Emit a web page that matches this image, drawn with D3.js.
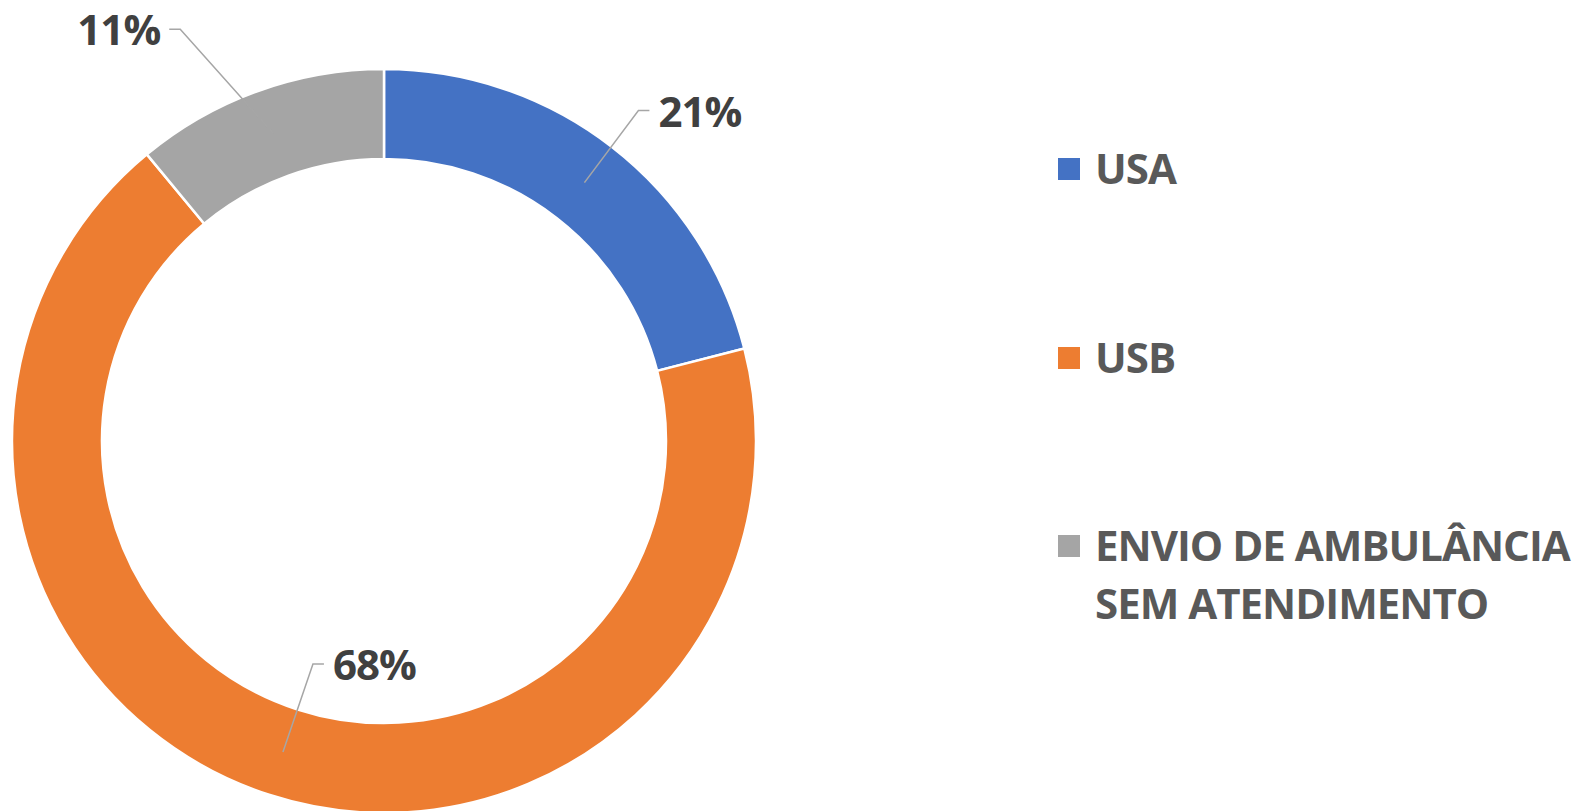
<!DOCTYPE html>
<html>
<head>
<meta charset="utf-8">
<script src="https://cdn.jsdelivr.net/npm/d3@7"></script>
<style>
  body { margin: 0; background: #fff; }
  svg { display: block; }
  text { font-family: "Open Sans", sans-serif; font-weight: 700; letter-spacing: -1px; }
</style>
</head>
<body>
<div id="chart"></div>
<script>
/* Donut chart of dispatch types */

const categories = ["USA", "USB", "ENVIO DE AMBULÂNCIA SEM ATENDIMENTO"];
const values = [21, 68, 11];
const valueLabels = ["21%", "68%", "11%"];
const legendLines = [["USA"], ["USB"], ["ENVIO DE AMBULÂNCIA", "SEM ATENDIMENTO"]];

const colors = ["#4472C4", "#ED7D31", "#A5A5A5"];

/* Size of the chart */
const width = 1581,
      height = 811,
      cx = 384,
      cy = 441,
      outerR = 372,
      innerR = 282;

let svg = d3.select("#chart")
            .append("svg")
            .attr("width", width)
            .attr("height", height)
            .attr("viewBox", [0, 0, width, height]);

let pie = d3.pie()
            .value(d => d)
            .sort(null);

let arc = d3.arc()
            .innerRadius(innerR)
            .outerRadius(outerR);

const arcs = pie(values);

let g = svg.append("g")
           .attr("transform", `translate(${cx},${cy})`);

/* Slices */
g.selectAll(".slice")
 .data(arcs)
 .join("path")
 .attr("class", "slice")
 .attr("d", arc)
 .attr("fill", (d, i) => colors[i])
 .attr("stroke", "#fff")
 .attr("stroke-width", 2.5);

/* Data labels with leader lines: knee offset from the slice centroid */
const knee = [[54, -72], [30, -88], [-93, -104]];
const side = [1, 1, -1];

arcs.forEach((d, i) => {
    const [mx, my] = arc.centroid(d);
    const kx = mx + knee[i][0],
          ky = my + knee[i][1];
    const hx = kx + side[i] * 11;

    g.append("polyline")
     .attr("points", [[mx, my], [kx, ky], [hx, ky]].map(p => p.join(",")).join(" "))
     .attr("fill", "none")
     .attr("stroke", "#A6A6A6")
     .attr("stroke-width", 1.5);

    g.append("text")
     .text(valueLabels[i])
     .attr("x", hx + side[i] * 9)
     .attr("y", ky + 16)
     .attr("text-anchor", side[i] > 0 ? "start" : "end")
     .attr("font-size", 42)
     .style("fill", "#404040");
});

/* Legend */
const legendY = [169, 358, 546];

let legend = svg.selectAll(".legend")
    .data(categories)
    .join("g")
    .attr("class", "legend")
    .attr("transform", (d, i) => `translate(1058,${legendY[i]})`);

legend.append("rect")
      .attr("x", 0)
      .attr("y", -11)
      .attr("width", 22)
      .attr("height", 22)
      .attr("fill", (d, i) => colors[i]);

legend.each(function(d, i) {
    const t = d3.select(this).append("text")
                .attr("font-size", 42)
                .style("fill", "#595959");
    legendLines[i].forEach((line, j) => {
        t.append("tspan")
         .attr("x", 37)
         .attr("y", 15 + j * 58)
         .text(line);
    });
});
</script>
</body>
</html>
